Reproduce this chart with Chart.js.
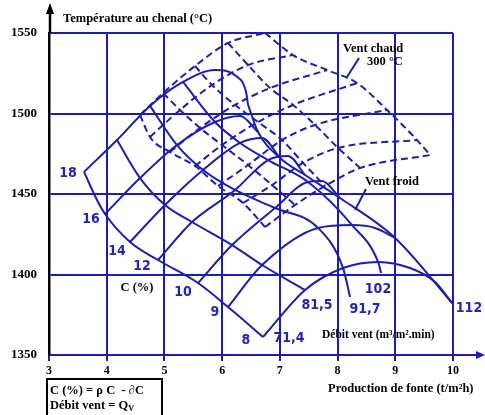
<!DOCTYPE html>
<html>
<head>
<meta charset="utf-8">
<script src="https://cdn.jsdelivr.net/npm/chart.js@4.4.0/dist/chart.umd.min.js"></script>
<style>
  html, body { margin: 0; padding: 0; background: #fff; }
  canvas { display: block; }
</style>
</head>
<body>
<canvas id="chart" width="485" height="415"></canvas>
<script>
// --- COULEURS ---
const BLUE = "#1d1db2";
const TEXT_BLUE = "#2323b8";
const SERIF = "'Liberation Serif', 'DejaVu Serif', serif";
const NARROW = "'Liberation Sans Narrow', 'DejaVu Sans Condensed', sans-serif";

// --- AXES ---
const xTicks = [3, 4, 5, 6, 7, 8, 9, 10];
const yTicks = [1350, 1400, 1450, 1500, 1550];

// --- VENT FROID (traits pleins) : courbes a C (%) constant ---
const cold18 = [[3.607, 1463.7], [4.178, 1483.5], [4.750, 1504.7], [5.322, 1519.6], [5.877, 1527.0], [6.241, 1523.3], [6.414, 1513.3], [6.449, 1505.3]];
const cold16 = [[3.971, 1437.6], [4.577, 1459.9], [5.218, 1480.4], [5.877, 1494.7], [6.310, 1498.4], [6.622, 1488.5]];
const cold14 = [[4.404, 1420.2], [5.010, 1443.2], [5.669, 1464.9], [6.310, 1481.7], [6.692, 1484.8], [7.003, 1472.4]];
const cold12 = [[4.889, 1409.0], [5.478, 1432.6], [6.224, 1452.5], [6.795, 1471.1], [7.142, 1473.6], [7.437, 1461.8]];
const cold10 = [[5.582, 1394.7], [6.172, 1418.3], [6.917, 1441.3], [7.489, 1457.5], [7.731, 1458.1], [8.043, 1447.5]];
const cold9 = [[6.102, 1379.8], [6.692, 1405.9], [7.662, 1428.9], [8.251, 1430.7], [8.650, 1428.9], [8.997, 1422.7]];
const cold8 = [[6.709, 1361.2], [7.437, 1390.4], [8.095, 1404.0], [8.702, 1407.8], [9.256, 1404.0], [9.690, 1395.3], [9.984, 1382.3]];

// --- VENT FROID : courbes a debit de vent constant ---
const coldQ714 = [[3.607, 1463.7], [3.832, 1446.3], [3.971, 1437.6], [4.404, 1420.2], [4.889, 1409.0], [5.582, 1394.7], [6.102, 1379.8], [6.709, 1361.2]];
const coldQ815 = [[4.178, 1483.5], [4.577, 1459.9], [5.010, 1443.2], [5.478, 1432.6], [6.172, 1418.3], [6.692, 1405.9], [7.437, 1390.4]];
const coldQ917 = [[4.750, 1504.7], [5.218, 1480.4], [5.669, 1464.9], [6.224, 1452.5], [6.917, 1441.3], [7.662, 1428.9], [8.095, 1404.0], [8.217, 1386.0]];
const coldQ102 = [[5.322, 1519.6], [5.877, 1494.7], [6.310, 1481.7], [6.795, 1471.1], [7.489, 1457.5], [8.251, 1430.7], [8.702, 1407.8], [8.754, 1400.9]];
const coldQ112 = [[6.449, 1505.3], [6.622, 1488.5], [7.003, 1472.4], [7.437, 1461.8], [8.043, 1447.5], [8.997, 1422.7], [9.984, 1382.3]];

// --- VENT CHAUD 300 °C (tirets) : C (%) constant, noeuds aux 5 debits ---
const hot18 = [[4.577, 1499.1], [4.976, 1512.7], [5.530, 1529.5], [6.102, 1543.8], [6.744, 1550.0]];
const hot16 = [[4.750, 1485.4], [5.270, 1502.2], [5.825, 1517.7], [6.449, 1530.1], [7.229, 1536.3]];
const hot14 = [[5.097, 1476.1], [5.617, 1491.0], [6.224, 1505.3], [6.830, 1515.8], [7.818, 1527.0]];
const hot12 = [[5.530, 1467.4], [5.998, 1480.4], [6.622, 1494.7], [7.229, 1505.3], [8.338, 1518.9]];
const hot10 = [[5.929, 1455.0], [6.449, 1468.0], [7.038, 1483.5], [7.610, 1492.9], [8.858, 1502.2]];
const hot9 = [[6.362, 1444.4], [6.865, 1455.6], [7.402, 1469.3], [8.009, 1478.6], [9.378, 1483.5]];
const hot8 = [[6.744, 1429.5], [7.263, 1443.2], [7.783, 1455.0], [8.390, 1466.1], [9.603, 1474.2]];

const pts = (a) => a.map(([x, y]) => ({ x, y }));

const coldC = [cold18, cold16, cold14, cold12, cold10, cold9, cold8];
const coldQ = [coldQ714, coldQ815, coldQ917, coldQ102, coldQ112];
const hotC = [hot18, hot16, hot14, hot12, hot10, hot9, hot8];
// lignes de debit du vent chaud : meme noeud (colonne) de chaque courbe C
const hotQ = hot18.map((_, j) => hotC.map((row) => row[j]));

const datasets = [];
coldC.forEach((a) => datasets.push({ data: pts(a) }));
coldQ.forEach((a) => datasets.push({ data: pts(a) }));
hotC.forEach((a) => datasets.push({ data: pts(a), borderDash: [7, 4] }));
hotQ.forEach((a) => datasets.push({ data: pts(a), borderDash: [7, 4] }));
datasets.forEach((d) => {
  d.showLine = true;
  d.cubicInterpolationMode = "monotone";
  d.borderColor = BLUE;
  d.borderWidth = 2;
  d.pointRadius = 0;
  d.fill = false;
  d.clip = false;
});

// --- DECORATIONS : fleches, textes ---
const decor = {
  id: "decor",
  afterDraw(chart) {
    const ctx = chart.ctx;
    const area = chart.chartArea;
    ctx.save();

    // fleche axe vertical
    ctx.strokeStyle = "#000";
    ctx.fillStyle = "#000";
    ctx.lineWidth = 2.5;
    ctx.beginPath();
    ctx.moveTo(area.left + 1, area.top);
    ctx.lineTo(area.left + 1, 12);
    ctx.stroke();
    ctx.beginPath();
    ctx.moveTo(area.left + 1, 3);
    ctx.lineTo(area.left - 3, 14);
    ctx.lineTo(area.left + 5, 14);
    ctx.closePath();
    ctx.fill();

    // prolongement + fleche axe horizontal
    ctx.strokeStyle = BLUE;
    ctx.fillStyle = BLUE;
    ctx.lineWidth = 2;
    ctx.beginPath();
    ctx.moveTo(area.right, area.bottom);
    ctx.lineTo(478, area.bottom);
    ctx.stroke();
    ctx.beginPath();
    ctx.moveTo(485, area.bottom);
    ctx.lineTo(476, area.bottom - 4);
    ctx.lineTo(476, area.bottom + 4);
    ctx.closePath();
    ctx.fill();

    // fleches des legendes
    ctx.beginPath();
    ctx.moveTo(359, 58);
    ctx.lineTo(347, 77);
    ctx.moveTo(366, 189);
    ctx.lineTo(355, 210);
    ctx.stroke();

    // textes noirs
    ctx.fillStyle = "#000";
    ctx.textBaseline = "middle";
    ctx.textAlign = "left";
    ctx.font = "bold 12.5px " + SERIF;
    ctx.fillText("Température au chenal (°C)", 63, 19);
    ctx.fillText("Vent chaud", 343, 49);
    ctx.fillText("300 °C", 367, 62);
    ctx.fillText("Vent froid", 365, 182);
    ctx.fillText("Production de fonte (t/m²h)", 328, 389);
    ctx.font = "bold 11.5px " + SERIF;
    ctx.fillText("Débit vent (m³/m².min)", 322, 335);
    ctx.font = "bold 12.5px " + SERIF;
    ctx.textAlign = "center";
    ctx.fillText("C (%)", 137, 288);

    // valeurs bleues
    ctx.fillStyle = TEXT_BLUE;
    ctx.font = "bold 14px " + NARROW;
    [
      ["18", 68, 173], ["16", 91, 219], ["14", 117, 251], ["12", 142, 266],
      ["10", 183, 292], ["9", 215, 312], ["8", 246, 340],
      ["71,4", 289, 338], ["81,5", 317, 305], ["91,7", 365, 309],
      ["102", 378, 289], ["112", 469, 308],
    ].forEach(([t, x, y]) => ctx.fillText(t, x, y));

    // cadre en bas a gauche
    ctx.strokeStyle = "#000";
    ctx.lineWidth = 2;
    ctx.strokeRect(47, 379, 115, 40);
    ctx.textAlign = "left";
    ctx.font = "bold 12.5px " + SERIF;
    ctx.fillStyle = "#000";
    let x = 50;
    const s1 = "C (%) = ρ C  - ";
    ctx.fillText(s1, x, 391);
    x += ctx.measureText(s1).width;
    ctx.fillStyle = TEXT_BLUE;
    ctx.fillText("∂", x, 391);
    x += ctx.measureText("∂").width;
    ctx.fillStyle = "#000";
    ctx.fillText("C", x, 391);
    const s2 = "Débit vent = Q";
    ctx.fillText(s2, 50, 406);
    const w2 = ctx.measureText(s2).width;
    ctx.font = "bold 8px " + SERIF;
    ctx.fillText("V", 50 + w2, 409);

    ctx.restore();
  },
};

new Chart(document.getElementById("chart"), {
  type: "scatter",
  data: { datasets },
  plugins: [decor],
  options: {
    responsive: false,
    animation: false,
    devicePixelRatio: 1,
    layout: { padding: { left: 0, top: 33, right: 32, bottom: 0 } },
    plugins: { legend: { display: false }, tooltip: { enabled: false } },
    scales: {
      x: {
        type: "linear",
        min: 3,
        max: 10,
        afterBuildTicks: (s) => { s.ticks = xTicks.map((v) => ({ value: v })); },
        afterFit: (s) => { s.height = 60; },
        ticks: {
          color: "#000",
          padding: 3,
          callback: (v) => String(v),
          font: { family: SERIF, weight: "bold", size: 12 },
        },
        grid: { color: BLUE, lineWidth: 2, tickLength: 6 },
        border: { color: BLUE, width: 2 },
      },
      y: {
        type: "linear",
        min: 1350,
        max: 1550,
        afterBuildTicks: (s) => { s.ticks = yTicks.map((v) => ({ value: v })); },
        afterFit: (s) => { s.width = 49; },
        ticks: {
          color: "#000",
          padding: 12,
          callback: (v) => String(v),
          font: { family: SERIF, weight: "bold", size: 13 },
        },
        grid: { color: BLUE, lineWidth: 2, drawTicks: false },
        border: { color: "#000", width: 2.5 },
      },
    },
  },
});
</script>
</body>
</html>
